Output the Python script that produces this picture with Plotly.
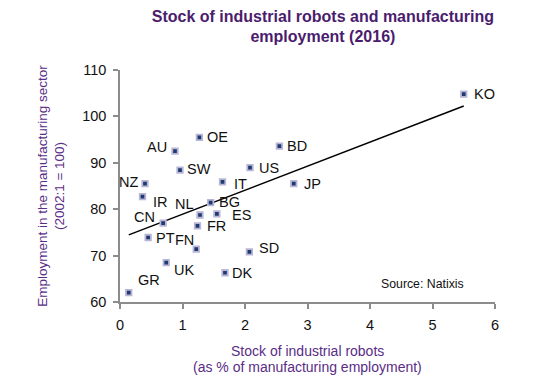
import numpy as np
import plotly.graph_objects as go

countries = ["OE", "AU", "SW", "NZ", "IT", "US", "BD", "JP", "IR", "BG", "NL",
             "ES", "CN", "FR", "PT", "FN", "SD", "UK", "DK", "GR", "KO"]
robots = [1.27, 0.88, 0.96, 0.40, 1.64, 2.08, 2.55, 2.78, 0.36, 1.45, 1.28,
          1.55, 0.69, 1.24, 0.45, 1.22, 2.07, 0.74, 1.68, 0.14, 5.50]
employment = [95.5, 92.5, 88.4, 85.5, 85.9, 88.95, 93.6, 85.5, 82.7, 81.4, 78.75,
              79.0, 77.0, 76.4, 73.9, 71.4, 70.8, 68.5, 66.3, 62.0, 104.8]
x_ticks = [0, 1, 2, 3, 4, 5, 6]
y_ticks = [60, 70, 80, 90, 100, 110]
x_title_lines = ["Stock of industrial robots", "(as % of manufacturing employment)"]

# label placement styles: (xanchor, xshift px, yshift px)
label_style = {
    "OE": ("left", 6, 0), "AU": ("right", -6, 4), "SW": ("left", 5, 1),
    "NZ": ("right", -5, 2), "IT": ("left", 9, -2), "US": ("left", 7, 0),
    "BD": ("left", 6, 0), "JP": ("left", 8, 0), "IR": ("left", 8, -5),
    "BG": ("left", 6, 1), "NL": ("right", -4, 11), "ES": ("left", 13, -1),
    "CN": ("right", -6, 6), "FR": ("left", 7, 0), "PT": ("left", 6, 0),
    "FN": ("right", 0, 9), "SD": ("left", 8, 4), "UK": ("left", 6, -7),
    "DK": ("left", 5, 0), "GR": ("left", 7, 13), "KO": ("left", 8, 0),
}

FONT = "Liberation Sans, Arial"
AXIS_TITLE_COLOR = "#5a2d86"

xa = np.array(robots)
ya = np.array(employment)
slope, intercept = np.polyfit(xa, ya, 1)
tx = np.array([xa.min(), xa.max()])
ty = slope * tx + intercept

fig = go.Figure()
fig.add_trace(go.Scatter(x=tx, y=ty, mode="lines",
                         line=dict(color="black", width=1.5),
                         hoverinfo="skip", showlegend=False))
fig.add_trace(go.Scatter(x=robots, y=employment, mode="markers",
                         marker=dict(symbol="square", size=5.5, color="#1f3a70",
                                     line=dict(color="#b8b5d6", width=1.8)),
                         text=countries, cliponaxis=False, showlegend=False))

for c, xv, yv in zip(countries, robots, employment):
    anc, xs, ys = label_style[c]
    fig.add_annotation(x=xv, y=yv, text=c, showarrow=False, xanchor=anc,
                       yanchor="middle", xshift=xs, yshift=ys,
                       font=dict(family=FONT, size=14.5, color="#111"))

fig.add_annotation(x=0.922, y=0.078, xref="paper", yref="paper", text="Source: Natixis",
                   showarrow=False, xanchor="right", yanchor="middle",
                   font=dict(family=FONT, size=12.3, color="#111"))

for i, line in enumerate(x_title_lines):
    fig.add_annotation(x=0.5, y=0, xref="paper", yref="paper", text=line,
                       showarrow=False, xanchor="center", yanchor="middle",
                       yshift=-49 - 16 * i,
                       font=dict(family=FONT, size=14, color=AXIS_TITLE_COLOR))

axis_common = dict(showline=True, linecolor="#8c8c8c", linewidth=1.5,
                   ticks="outside", tickcolor="#8c8c8c", ticklen=5, tickwidth=1.5,
                   showgrid=False, zeroline=False, automargin=False,
                   ticklabelstandoff=4,
                   tickfont=dict(family=FONT, size=14.5, color="#111"))

# the page body adds an 8 px offset, so the figure is sized/margined to compensate
fig.update_layout(
    width=542, height=380,
    margin=dict(l=112, r=55, t=62, b=86),
    paper_bgcolor="white", plot_bgcolor="white",
    title=dict(text="<b>Stock of industrial robots and manufacturing<br>employment (2016)</b>",
               x=0.581, xanchor="center", y=0.9645, yanchor="top",
               font=dict(family=FONT, size=16, color="#4b1c6e")),
    xaxis=dict(range=[0, 6], tickvals=x_ticks, **axis_common),
    yaxis=dict(range=[60, 110], tickvals=y_ticks,
               title=dict(text="Employment in the manufacturing sector<br>(2002:1 = 100)",
                          font=dict(family=FONT, size=13.5, color=AXIS_TITLE_COLOR),
                          standoff=14),
               **axis_common),
)

fig.write_html("out.html")
